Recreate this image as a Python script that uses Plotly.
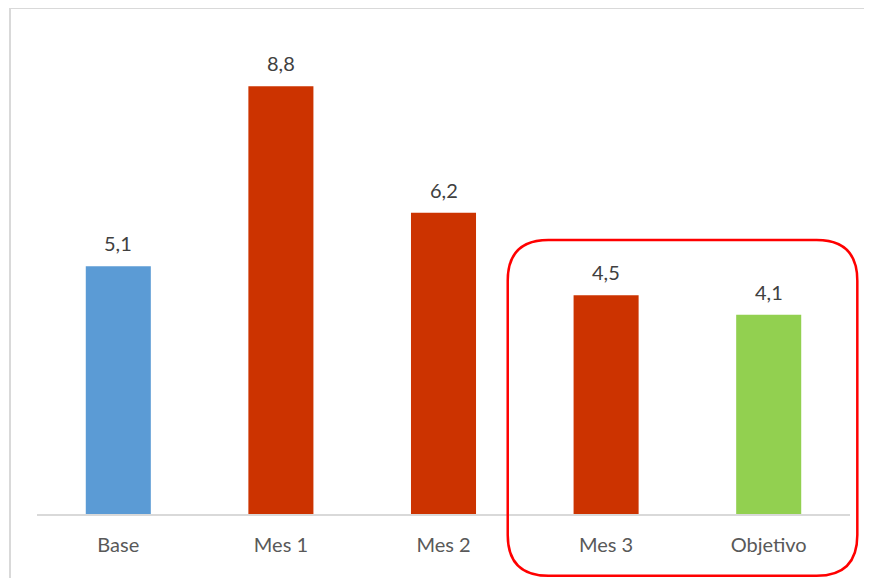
import plotly.graph_objects as go

categories = ["Base", "Mes 1", "Mes 2", "Mes 3", "Objetivo"]
values = [5.1, 8.8, 6.2, 4.5, 4.1]
colors = ["#5B9BD5", "#CC3300", "#CC3300", "#CC3300", "#92D050"]

fig = go.Figure()
fig.add_trace(go.Bar(x=categories, y=values, marker=dict(color=colors, line_width=0),
                     hoverinfo="skip"))

# data labels, Excel style (decimal comma, a bit above the bar)
for c, v in zip(categories, values):
    fig.add_annotation(x=c, y=v, text=f"{v:.1f}".replace(".", ","), showarrow=False,
                       yshift=23, font=dict(size=20, color="#404040"))

# rounded highlight around Mes 3 / Objetivo (paper coords)
x0, x1, y0, y1 = 0.579, 1.009, -0.127, 0.564
rx, ry = 0.050, 0.084
path = (f"M {x0+rx},{y1} L {x1-rx},{y1} Q {x1},{y1} {x1},{y1-ry} "
        f"L {x1},{y0+ry} Q {x1},{y0} {x1-rx},{y0} L {x0+rx},{y0} "
        f"Q {x0},{y0} {x0},{y0+ry} L {x0},{y1-ry} Q {x0},{y1} {x0+rx},{y1} Z")
fig.add_shape(type="path", path=path, xref="paper", yref="paper",
              line=dict(color="#FF0000", width=2.5))

# chart outer border (right/bottom edges fall outside the view)
fig.add_shape(type="rect", xref="paper", yref="paper", x0=-0.0332, x1=1.06,
              y0=-0.2, y1=1.041, line=dict(color="#D9D9D9", width=2), layer="below")

# page body has an 8px margin, so keep the figure inside the window
fig.update_layout(
    width=864, height=570,
    margin=dict(l=29, r=22, t=20, b=64),
    paper_bgcolor="white", plot_bgcolor="white",
    bargap=0.6, showlegend=False,
    font=dict(family="Lato, Open Sans, sans-serif", size=20, color="#595959"),
    xaxis=dict(showline=True, linecolor="#D9D9D9", linewidth=2, ticks="",
               ticklabelstandoff=12, tickfont=dict(size=20, color="#595959"),
               showgrid=False, fixedrange=True),
    yaxis=dict(range=[0, 10], visible=False, showgrid=False, fixedrange=True),
)

fig.write_html("out.html")
